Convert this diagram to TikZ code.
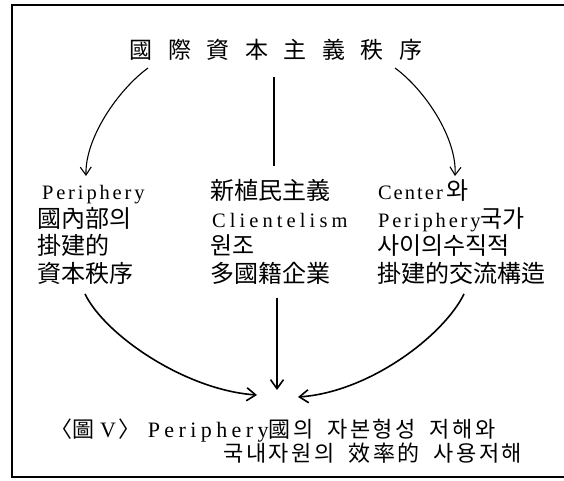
\documentclass[tikz,border=0pt]{standalone}
\usepackage{fontspec}
\usetikzlibrary{arrows.meta}
\setmainfont{Liberation Serif}
\newfontfamily\kr{Noto Sans CJK KR}
\newfontfamily\lat{Liberation Serif}[LetterSpace=14]
\newfontfamily\latw{Liberation Serif}[LetterSpace=20]
\newfontfamily\latc{Liberation Serif}[LetterSpace=20]
\newfontfamily\latn{Liberation Serif}[LetterSpace=10]
\newcommand\gp{\hspace{15.5pt}}
\newcommand\kk{\kern2.5pt}
\newcommand\lt{\fontsize{20.5}{27.5}\selectfont}
\tikzset{
  every node/.style={inner sep=0pt, outer sep=0pt},
  txtcol/.style={font=\fontsize{24}{27.5}\selectfont, align=left, anchor=base west},
  captxt/.style={font=\fontsize{22}{24}\selectfont},
  conn/.style={line width=1.1pt, -{Straight Barb[length=8pt,width=11pt,line width=1.1pt]}},
  connb/.style={line width=1.6pt, -{Straight Barb[length=9pt,width=13pt,line width=1.6pt]}},
  plainline/.style={line width=1.1pt},
  framestyle/.style={line width=1.5pt}
}
\begin{document}
\begin{tikzpicture}[x=1pt,y=-1pt]
\useasboundingbox (0,0) rectangle (564,481);
\draw[framestyle] (564,5) -- (12,5) -- (12,477) -- (564,477);
\node[font=\kr\fontsize{23}{23}\selectfont] (title) at (276,50) {國\gp 際\gp 資\gp 本\gp 主\gp 義\gp 秩\gp 序};
\node[txtcol] (left) at (37,282) {{\lt\lat \hspace{5pt}Periphery}\\{\kr 國內部의}\\{\kr 掛建的}\\{\kr 資本秩序}};
\node[txtcol] (mid) at (210,282) {{\kr 新植民主義}\\{\lt\latw \hspace{2pt}Clientelism}\\{\kr 원조}\\{\kr 多國籍企業}};
\node[txtcol] (right) at (377,282) {{\lt\latn \hspace{1pt}Center}\hspace{4pt}{\kr 와}\\{\lt\lat \hspace{1pt}Periphery}{\kr 국가}\\{\kr 사이의수직적}\\{\kr 掛建的交流構造}};
\node[captxt, anchor=base west] (cap1) at (50,437) {{\kr 〈圖}\hspace{6pt}{\latn V}\hspace{3pt}{\kr 〉}\hspace{7pt}{\latc Periphery}{\kr 國\kk 의}\hspace{14pt}{\kr 자\kk 본\kk 형\kk 성}\hspace{14pt}{\kr 저\kk 해\kk 와}};
\node[captxt, anchor=base east] (cap2) at (522,461) {{\kr 국\kk 내\kk 자\kk 원\kk 의}\hspace{14pt}{\kr 效\kk 率\kk 的}\hspace{14pt}{\kr 사\kk 용\kk 저\kk 해}};
\coordinate (tl) at (148,68);
\coordinate (tc) at (274,77);
\coordinate (tr) at (395,68);
\coordinate (la) at (86,176);
\coordinate (mb) at (274,166);
\coordinate (ra) at (455,176);
\coordinate (lb) at (85,294);
\coordinate (cb) at (277,298);
\coordinate (rb) at (464,294);
\coordinate (el) at (257,395);
\coordinate (ec) at (277,390);
\coordinate (er) at (298,397);
\draw[conn] (tl) .. controls (118,90) and (85,138) .. (la);
\draw[plainline] (tc) -- (mb);
\draw[conn] (tr) .. controls (425,90) and (457,138) .. (ra);
\draw[connb] (lb) .. controls (105,335) and (185,390) .. (el);
\draw[connb] (cb) -- (ec);
\draw[connb] (rb) .. controls (444,335) and (370,392) .. (er);
\end{tikzpicture}
\end{document}
